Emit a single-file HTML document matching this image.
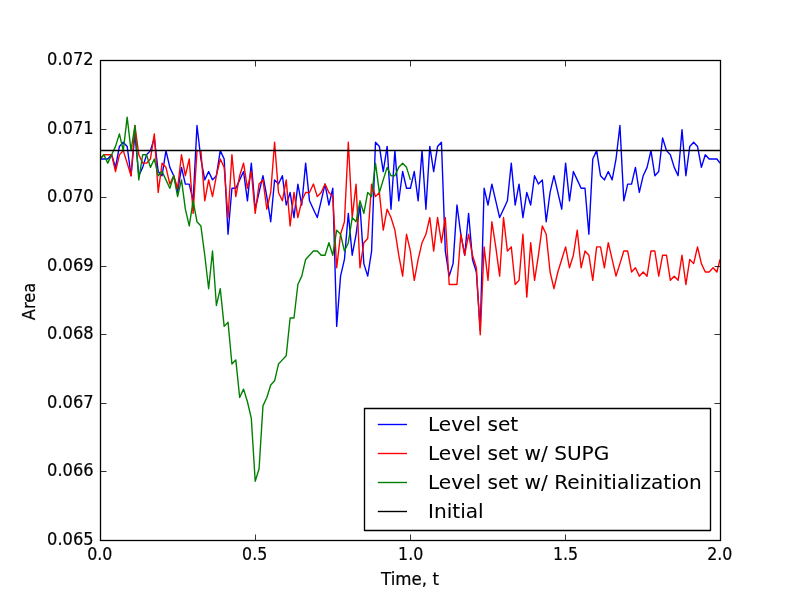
<!DOCTYPE html>
<html lang="en">
<head>
<meta charset="utf-8">
<title>Area vs Time</title>
<style>
html,body{margin:0;padding:0;background:#ffffff;}
body{width:800px;height:600px;overflow:hidden;position:relative;font-family:"DejaVu Sans","Liberation Sans",sans-serif;}
</style>
</head>
<body>
<svg width="800" height="600" viewBox="0 0 800 600" style="display:block;position:absolute;left:0;top:0">
<rect x="0" y="0" width="800" height="600" fill="#ffffff"/>
<defs><clipPath id="ax"><rect x="100" y="60" width="620" height="480"/></clipPath></defs>
<g clip-path="url(#ax)" fill="none" stroke-width="1.39" stroke-linejoin="round" stroke-linecap="butt">
<path d="M100.00 158.97 L103.88 158.97 L107.76 158.97 L111.64 154.79 L115.52 167.34 L119.40 146.41 L123.28 142.23 L127.16 146.41 L131.04 175.71 L134.92 133.86 L138.80 175.71 L142.68 167.34 L146.56 154.79 L150.44 150.60 L154.32 138.04 L158.20 171.53 L162.08 175.71 L165.96 150.60 L169.84 167.34 L173.72 175.71 L177.60 192.45 L181.48 167.34 L185.36 184.08 L189.24 184.08 L193.12 200.82 L197.00 125.49 L200.88 158.97 L204.76 179.90 L208.64 171.53 L212.52 179.90 L216.40 175.71 L220.28 150.60 L224.16 158.97 L228.04 234.31 L231.92 188.27 L235.80 188.27 L239.68 179.90 L243.56 171.53 L247.44 200.82 L251.32 163.16 L255.20 209.19 L259.08 192.45 L262.96 175.71 L266.84 196.64 L270.72 221.75 L274.60 179.90 L278.48 184.08 L282.36 175.71 L286.24 205.01 L290.12 192.45 L294.00 217.56 L297.88 184.08 L301.76 205.01 L305.64 163.16 L309.52 200.82 L313.40 209.19 L317.28 217.56 L321.16 200.82 L325.04 184.08 L328.92 205.01 L332.80 188.27 L336.68 326.38 L340.56 276.16 L344.44 259.42 L348.32 213.38 L352.20 255.23 L356.08 234.31 L359.96 205.01 L363.84 263.60 L367.72 276.16 L371.60 251.05 L375.48 142.23 L379.36 146.41 L383.24 171.53 L387.12 146.41 L391.00 209.19 L394.88 150.60 L398.76 200.82 L402.64 171.53 L406.52 188.27 L410.40 188.27 L414.28 171.53 L418.16 200.82 L422.04 150.60 L425.92 209.19 L429.80 146.41 L433.68 171.53 L437.56 146.41 L441.44 142.23 L445.32 251.05 L449.20 276.16 L453.08 263.60 L456.96 205.01 L460.84 234.31 L464.72 255.23 L468.60 213.38 L472.48 259.42 L476.36 271.97 L480.24 330.57 L484.12 188.27 L488.00 205.01 L491.88 184.08 L495.76 200.82 L499.64 217.56 L503.52 209.19 L507.40 200.82 L511.28 163.16 L515.16 205.01 L519.04 184.08 L522.92 217.56 L526.80 192.45 L530.68 205.01 L534.56 175.71 L538.44 184.08 L542.32 179.90 L546.20 221.75 L550.08 192.45 L553.96 175.71 L557.84 192.45 L561.72 209.19 L565.60 163.16 L569.48 200.82 L573.36 171.53 L577.24 179.90 L581.12 188.27 L585.00 188.27 L588.88 234.31 L592.76 158.97 L596.64 150.60 L600.52 175.71 L604.40 179.90 L608.28 171.53 L612.16 179.90 L616.04 158.97 L619.92 125.49 L623.80 200.82 L627.68 184.08 L631.56 184.08 L635.44 167.34 L639.32 192.45 L643.20 175.71 L647.08 167.34 L650.96 150.60 L654.84 175.71 L658.72 171.53 L662.60 138.04 L666.48 150.60 L670.36 154.79 L674.24 167.34 L678.12 175.71 L682.00 129.67 L685.88 175.71 L689.76 146.41 L693.64 142.23 L697.52 146.41 L701.40 167.34 L705.28 154.79 L709.16 158.97 L713.04 158.97 L716.92 158.97 L720.00 163.16" stroke="#0000ff"/>
<path d="M100.00 158.97 L103.88 154.79 L107.76 154.79 L111.64 154.79 L115.52 171.53 L119.40 154.79 L123.28 150.60 L127.16 163.16 L131.04 175.71 L134.92 125.49 L138.80 154.79 L142.68 163.16 L146.56 163.16 L150.44 158.97 L154.32 133.86 L158.20 192.45 L162.08 163.16 L165.96 167.34 L169.84 184.08 L173.72 175.71 L177.60 188.27 L181.48 154.79 L185.36 175.71 L189.24 158.97 L193.12 213.38 L197.00 150.60 L200.88 150.60 L204.76 200.82 L208.64 179.90 L212.52 196.64 L216.40 175.71 L220.28 158.97 L224.16 167.34 L228.04 217.56 L231.92 154.79 L235.80 196.64 L239.68 175.71 L243.56 163.16 L247.44 188.27 L251.32 171.53 L255.20 213.38 L259.08 184.08 L262.96 179.90 L266.84 209.19 L270.72 192.45 L274.60 142.23 L278.48 192.45 L282.36 200.82 L286.24 179.90 L290.12 225.94 L294.00 192.45 L297.88 217.56 L301.76 200.82 L305.64 192.45 L309.52 192.45 L313.40 184.08 L317.28 196.64 L321.16 192.45 L325.04 184.08 L328.92 192.45 L332.80 196.64 L336.68 267.79 L340.56 234.31 L344.44 221.75 L348.32 142.23 L352.20 217.56 L356.08 184.08 L359.96 267.79 L363.84 242.68 L367.72 238.49 L371.60 184.08 L375.48 196.64 L379.36 192.45 L383.24 230.12 L387.12 209.19 L391.00 217.56 L394.88 230.12 L398.76 255.23 L402.64 276.16 L406.52 234.31 L410.40 251.05 L414.28 280.34 L418.16 259.42 L422.04 242.68 L425.92 234.31 L429.80 217.56 L433.68 251.05 L437.56 217.56 L441.44 242.68 L445.32 217.56 L449.20 284.53 L453.08 284.53 L456.96 284.53 L460.84 234.31 L464.72 255.23 L468.60 234.31 L472.48 255.23 L476.36 267.79 L480.24 334.75 L484.12 246.86 L488.00 280.34 L491.88 221.75 L495.76 246.86 L499.64 276.16 L503.52 217.56 L507.40 251.05 L511.28 246.86 L515.16 284.53 L519.04 280.34 L522.92 234.31 L526.80 297.09 L530.68 242.68 L534.56 280.34 L538.44 255.23 L542.32 225.94 L546.20 234.31 L550.08 271.97 L553.96 288.71 L557.84 271.97 L561.72 259.42 L565.60 246.86 L569.48 267.79 L573.36 255.23 L577.24 230.12 L581.12 267.79 L585.00 251.05 L588.88 255.23 L592.76 280.34 L596.64 246.86 L600.52 246.86 L604.40 267.79 L608.28 242.68 L612.16 259.42 L616.04 276.16 L619.92 263.60 L623.80 251.05 L627.68 251.05 L631.56 271.97 L635.44 267.79 L639.32 276.16 L643.20 271.97 L647.08 276.16 L650.96 251.05 L654.84 251.05 L658.72 276.16 L662.60 255.23 L666.48 255.23 L670.36 280.34 L674.24 276.16 L678.12 280.34 L682.00 255.23 L685.88 284.53 L689.76 259.42 L693.64 263.60 L697.52 246.86 L701.40 263.60 L705.28 271.97 L709.16 271.97 L713.04 267.79 L716.92 271.97 L720.00 259.42" stroke="#ff0000"/>
<path d="M100.00 158.97 L103.88 154.79 L107.76 163.16 L111.64 154.79 L115.52 146.41 L119.40 133.86 L123.28 150.60 L127.16 117.12 L131.04 150.60 L134.92 125.49 L138.80 179.90 L142.68 154.79 L146.56 154.79 L150.44 167.34 L154.32 158.97 L158.20 175.71 L162.08 171.53 L165.96 179.90 L169.84 188.27 L173.72 175.71 L177.60 196.64 L181.48 179.90 L185.36 209.19 L189.24 225.94 L193.12 200.82 L197.00 221.75 L200.88 225.94 L204.76 255.23 L208.64 288.71 L212.52 251.05 L216.40 305.46 L220.28 288.71 L224.16 326.38 L228.04 322.20 L231.92 364.05 L235.80 359.87 L239.68 397.53 L243.56 389.16 L247.44 401.72 L251.32 418.46 L255.20 481.24 L259.08 468.68 L262.96 405.90 L266.84 397.53 L270.72 384.98 L274.60 380.79 L278.48 364.05 L282.36 359.87 L286.24 355.68 L290.12 318.01 L294.00 318.01 L297.88 284.53 L301.76 276.16 L305.64 259.42 L309.52 255.23 L313.40 251.05 L317.28 251.05 L321.16 255.23 L325.04 255.23 L328.92 242.68 L332.80 255.23 L336.68 230.12 L340.56 234.31 L344.44 251.05 L348.32 242.68 L352.20 217.56 L356.08 221.75 L359.96 200.82 L363.84 213.38 L367.72 192.45 L371.60 196.64 L375.48 163.16 L379.36 192.45 L383.24 179.90 L387.12 167.34 L391.00 175.71 L394.88 175.71 L398.76 167.34 L402.64 163.16 L406.52 167.34 L410.40 179.90" stroke="#008000"/>
<path d="M100 150.5 L720 150.5" stroke="#000000"/>
</g>
<rect x="100.5" y="60.5" width="620" height="480" fill="none" stroke="#000" stroke-width="1.3"/>
<path d="M100.5 540.5 v-6 M100.5 60.5 v6 M255.5 540.5 v-6 M255.5 60.5 v6 M410.5 540.5 v-6 M410.5 60.5 v6 M565.5 540.5 v-6 M565.5 60.5 v6 M720.5 540.5 v-6 M720.5 60.5 v6 M100.5 60.5 h6 M720.5 60.5 h-6 M100.5 129.5 h6 M720.5 129.5 h-6 M100.5 197.5 h6 M720.5 197.5 h-6 M100.5 266.5 h6 M720.5 266.5 h-6 M100.5 334.5 h6 M720.5 334.5 h-6 M100.5 403.5 h6 M720.5 403.5 h-6 M100.5 471.5 h6 M720.5 471.5 h-6 M100.5 540.5 h6 M720.5 540.5 h-6" stroke="#000" stroke-width="0.8" fill="none"/>
<g font-family="'DejaVu Sans', 'Liberation Sans', sans-serif" fill="#000" stroke="#000" stroke-width="0.2" stroke-linejoin="round">
<text transform="translate(99.80 559.50) scale(0.95 1.075)" font-size="16.67px" text-anchor="middle">0.0</text>
<text transform="translate(254.70 559.50) scale(0.95 1.075)" font-size="16.67px" text-anchor="middle">0.5</text>
<text transform="translate(410.70 559.50) scale(0.95 1.075)" font-size="16.67px" text-anchor="middle">1.0</text>
<text transform="translate(565.60 559.50) scale(0.95 1.075)" font-size="16.67px" text-anchor="middle">1.5</text>
<text transform="translate(719.80 559.50) scale(0.95 1.075)" font-size="16.67px" text-anchor="middle">2.0</text>
<text transform="translate(93.55 64.50) scale(0.975 1.075)" font-size="16.67px" text-anchor="end">0.072</text>
<text transform="translate(93.55 133.50) scale(0.975 1.075)" font-size="16.67px" text-anchor="end">0.071</text>
<text transform="translate(93.55 201.50) scale(0.975 1.075)" font-size="16.67px" text-anchor="end">0.070</text>
<text transform="translate(93.55 270.50) scale(0.975 1.075)" font-size="16.67px" text-anchor="end">0.069</text>
<text transform="translate(93.55 338.50) scale(0.975 1.075)" font-size="16.67px" text-anchor="end">0.068</text>
<text transform="translate(93.55 407.50) scale(0.975 1.075)" font-size="16.67px" text-anchor="end">0.067</text>
<text transform="translate(93.55 475.50) scale(0.975 1.075)" font-size="16.67px" text-anchor="end">0.066</text>
<text transform="translate(93.55 544.50) scale(0.975 1.075)" font-size="16.67px" text-anchor="end">0.065</text>
<text transform="translate(410.00 584.50) scale(1.0 1.075)" font-size="16.67px" text-anchor="middle">Time, t</text>
<text transform="translate(35.00 301.50) rotate(-90) scale(0.975 1.075)" font-size="16.67px" text-anchor="middle">Area</text>
</g>
<rect x="364.5" y="408.5" width="346" height="122" fill="#fff" stroke="#000" stroke-width="1.35" stroke-linejoin="round"/>
<g stroke-width="1.39" fill="none">
<path d="M377.8 424.5 L407 424.5" stroke="#0000ff"/>
<path d="M377.8 453.5 L407 453.5" stroke="#ff0000"/>
<path d="M377.8 482.5 L407 482.5" stroke="#008000"/>
<path d="M377.8 511.5 L407 511.5" stroke="#000000"/>
</g>
<g font-family="'DejaVu Sans', 'Liberation Sans', sans-serif" fill="#000" stroke="#000" stroke-width="0.06" stroke-linejoin="round">
<text transform="translate(428.00 431.00) scale(1.0055 1.01)" font-size="20px" text-anchor="start">Level set</text>
<text transform="translate(428.00 460.00) scale(1.0055 1.01)" font-size="20px" text-anchor="start">Level set w/ SUPG</text>
<text transform="translate(428.00 489.00) scale(1.0055 1.01)" font-size="20px" text-anchor="start">Level set w/ Reinitialization</text>
<text transform="translate(428.00 518.00) scale(1.0055 1.01)" font-size="20px" text-anchor="start">Initial</text>
</g>
</svg>
</body>
</html>
